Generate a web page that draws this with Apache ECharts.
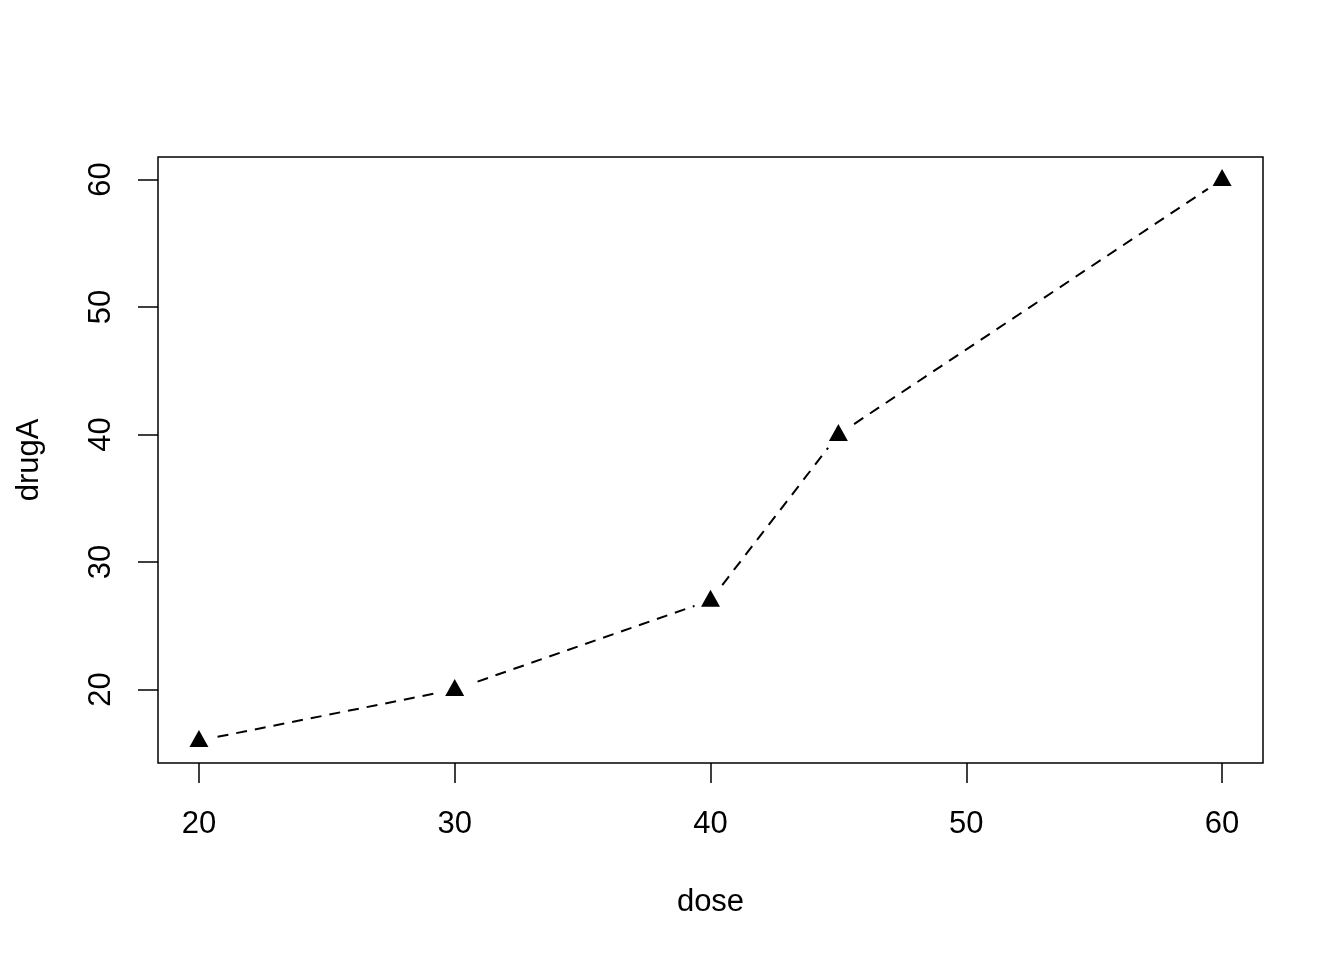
<!DOCTYPE html>
<html>
<head>
<meta charset="utf-8">
<script src="https://cdn.jsdelivr.net/npm/echarts@6/dist/echarts.min.js"></script>
<style>html,body{margin:0;padding:0;background:#fff}#c{width:1344px;height:960px}</style>
</head>
<body>
<div id="c"></div>
<script>
const dose = [20, 30, 40, 45, 60];
const drugA = [16, 20, 27, 40, 60];
const xTicks = [20, 30, 40, 50, 60];
const yTicks = [20, 30, 40, 50, 60];

const pts = dose.map((d, i) => [d, drugA[i]]);
const font = '"Liberation Sans", Arial, sans-serif';
const chart = echarts.init(document.getElementById('c'));
chart.setOption({
  animation: false,
  backgroundColor: '#fff',
  grid: { left: 158, right: 81, top: 157, bottom: 197, show: true, borderColor: '#000', borderWidth: 1.5, backgroundColor: 'transparent' },
  xAxis: {
    type: 'value', min: 18.4, max: 61.6,
    name: 'dose', nameLocation: 'middle', nameGap: 124,
    nameTextStyle: { fontFamily: font, fontSize: 31, color: '#000' },
    axisLine: { show: false },
    splitLine: { show: false },
    axisTick: { show: true, length: 20, customValues: xTicks, lineStyle: { color: '#000', width: 1.5 } },
    axisLabel: { customValues: xTicks, margin: 46, fontFamily: font, fontSize: 31, color: '#000' }
  },
  yAxis: {
    type: 'value', min: 14.24, max: 61.76,
    name: 'drugA', nameLocation: 'middle', nameGap: 113, nameRotate: 90,
    nameTextStyle: { fontFamily: font, fontSize: 31, color: '#000' },
    axisLine: { show: false },
    splitLine: { show: false },
    axisTick: { show: true, length: 20, customValues: yTicks, lineStyle: { color: '#000', width: 1.5 } },
    axisLabel: { customValues: yTicks, rotate: 90, margin: 41, fontFamily: font, fontSize: 31, color: '#000' }
  },
  series: [
    { type: 'line', data: pts, showSymbol: false, symbol: 'none', z: 1,
      lineStyle: { color: '#000', width: 2, type: [11, 8] } },
    { type: 'scatter', data: pts, symbol: 'circle', symbolSize: 34, z: 2, silent: true,
      itemStyle: { color: '#fff', opacity: 1 } },
    { type: 'scatter', data: pts, symbol: 'triangle', symbolSize: [19, 17], symbolOffset: [0, -2], z: 3,
      itemStyle: { color: '#000', opacity: 1 } }
  ]
});
</script>
</body>
</html>
